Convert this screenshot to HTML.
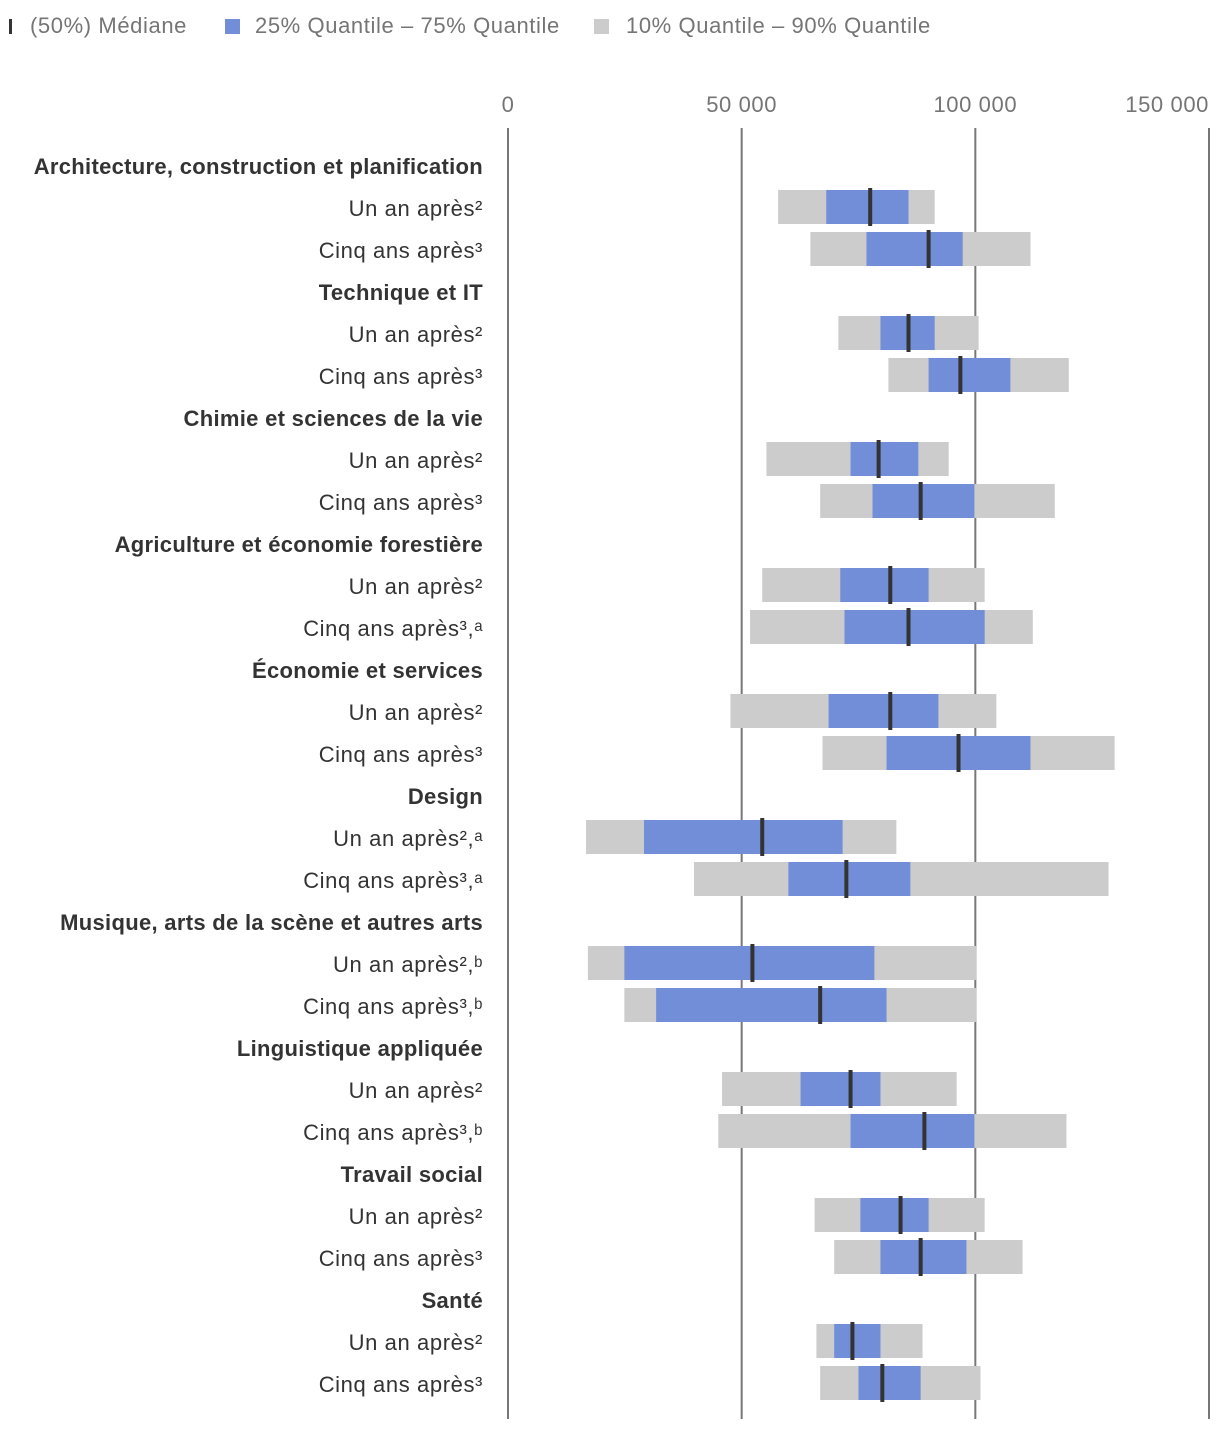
<!DOCTYPE html>
<html><head><meta charset="utf-8">
<style>
body{margin:0;background:#fff;width:1220px;height:1432px;overflow:hidden;font-family:"Liberation Sans",sans-serif;}
</style></head>
<body>
<svg id="chart" width="1220" height="1432" xmlns="http://www.w3.org/2000/svg" font-family="Liberation Sans, sans-serif">
  <g font-size="22" letter-spacing="0.6">
    <rect x="9" y="19" width="3" height="15" fill="#333"/>
    <text x="30" y="33" fill="#757575">(50%) Médiane</text>
    <rect x="225" y="19" width="15" height="15" fill="#738ed8"/>
    <text x="255" y="33" fill="#757575">25% Quantile – 75% Quantile</text>
    <rect x="594" y="19" width="15" height="15" fill="#cccccc"/>
    <text x="626" y="33" fill="#757575">10% Quantile – 90% Quantile</text>
  </g>
  <g id="grid"></g>
  <g id="labels"></g>
  <g id="bars"></g>
</svg>
<script>
const ticks=[0,50000,100000,150000];
const tickLabels=["0","50 000","100 000","150 000"];
const categories=["Architecture, construction et planification","Technique et IT","Chimie et sciences de la vie","Agriculture et économie forestière","Économie et services","Design","Musique, arts de la scène et autres arts","Linguistique appliquée","Travail social","Santé"];
const rowLabels=[["Un an après²","Cinq ans après³"],["Un an après²","Cinq ans après³"],["Un an après²","Cinq ans après³"],["Un an après²","Cinq ans après³,ᵃ"],["Un an après²","Cinq ans après³"],["Un an après²,ᵃ","Cinq ans après³,ᵃ"],["Un an après²,ᵇ","Cinq ans après³,ᵇ"],["Un an après²","Cinq ans après³,ᵇ"],["Un an après²","Cinq ans après³"],["Un an après²","Cinq ans après³"]];
const p10=[57800,64700,70700,81400,55300,66800,54400,51800,47600,67300,16700,39800,17100,24900,45800,45000,65600,69800,66000,66800];
const p25=[68100,76700,79700,90000,73300,78000,71100,72000,68600,81000,29100,60000,24900,31700,62600,73300,75400,79700,69800,75000];
const p50=[77500,90000,85700,96800,79300,88300,81800,85700,81800,96400,54400,72400,52300,66800,73300,89100,84000,88300,73700,80100];
const p75=[85700,97300,91300,107500,87800,99800,90000,102000,92100,111800,71600,86100,78400,81000,79700,99800,90000,98100,79700,88300];
const p90=[91300,111800,100700,120000,94300,117000,102000,112300,104500,129800,83100,128500,100300,100300,96000,119500,102000,110100,88700,101100];

const NS="http://www.w3.org/2000/svg";
const x0=508, x1=1209, vmax=150000;
const xs=v=>x0+(x1-x0)*v/vmax;
function mk(tag,attrs,parent,txt){const e=document.createElementNS(NS,tag);for(const k in attrs)e.setAttribute(k,attrs[k]);if(txt!==undefined)e.textContent=txt;parent.appendChild(e);return e;}
const grid=document.getElementById('grid'),labels=document.getElementById('labels'),bars=document.getElementById('bars');
ticks.forEach((t,i)=>{
  const l=mk('line',{x1:xs(t),x2:xs(t),y1:128,y2:1419,stroke:'#777','stroke-width':2},grid);
  
  
  const last=i===ticks.length-1;
  const tx=mk('text',{x:last?xs(t):xs(t),y:112,'font-size':22,'letter-spacing':0.6,fill:'#757575','text-anchor':last?'end':'middle'},grid,tickLabels[i]);
  
  
});
let y=166;
categories.forEach((c,ci)=>{
  const h=mk('text',{x:483,y:y+8,'font-size':22,'letter-spacing':0.3,'font-weight':'bold',fill:'#333','text-anchor':'end'},labels,c);
  
  
  y+=42;
  for(let r=0;r<2;r++){
    const i=ci*2+r;
    const t=mk('text',{x:483,y:y+8,'font-size':22,'letter-spacing':0.6,fill:'#333','text-anchor':'end'},labels,rowLabels[ci][r]);
    
    
    const g=mk('rect',{x:xs(p10[i]),y:y-18,width:xs(p90[i])-xs(p10[i]),height:34,fill:'#cccccc'},bars);
    
    
    const b=mk('rect',{x:xs(p25[i]),y:y-18,width:xs(p75[i])-xs(p25[i]),height:34,fill:'#738ed8'},bars);
    
    
    const m=mk('rect',{x:xs(p50[i])-2,y:y-20,width:4,height:38,fill:'#333'},bars);
    
    
    y+=42;
  }
});
</script>
</body></html>
